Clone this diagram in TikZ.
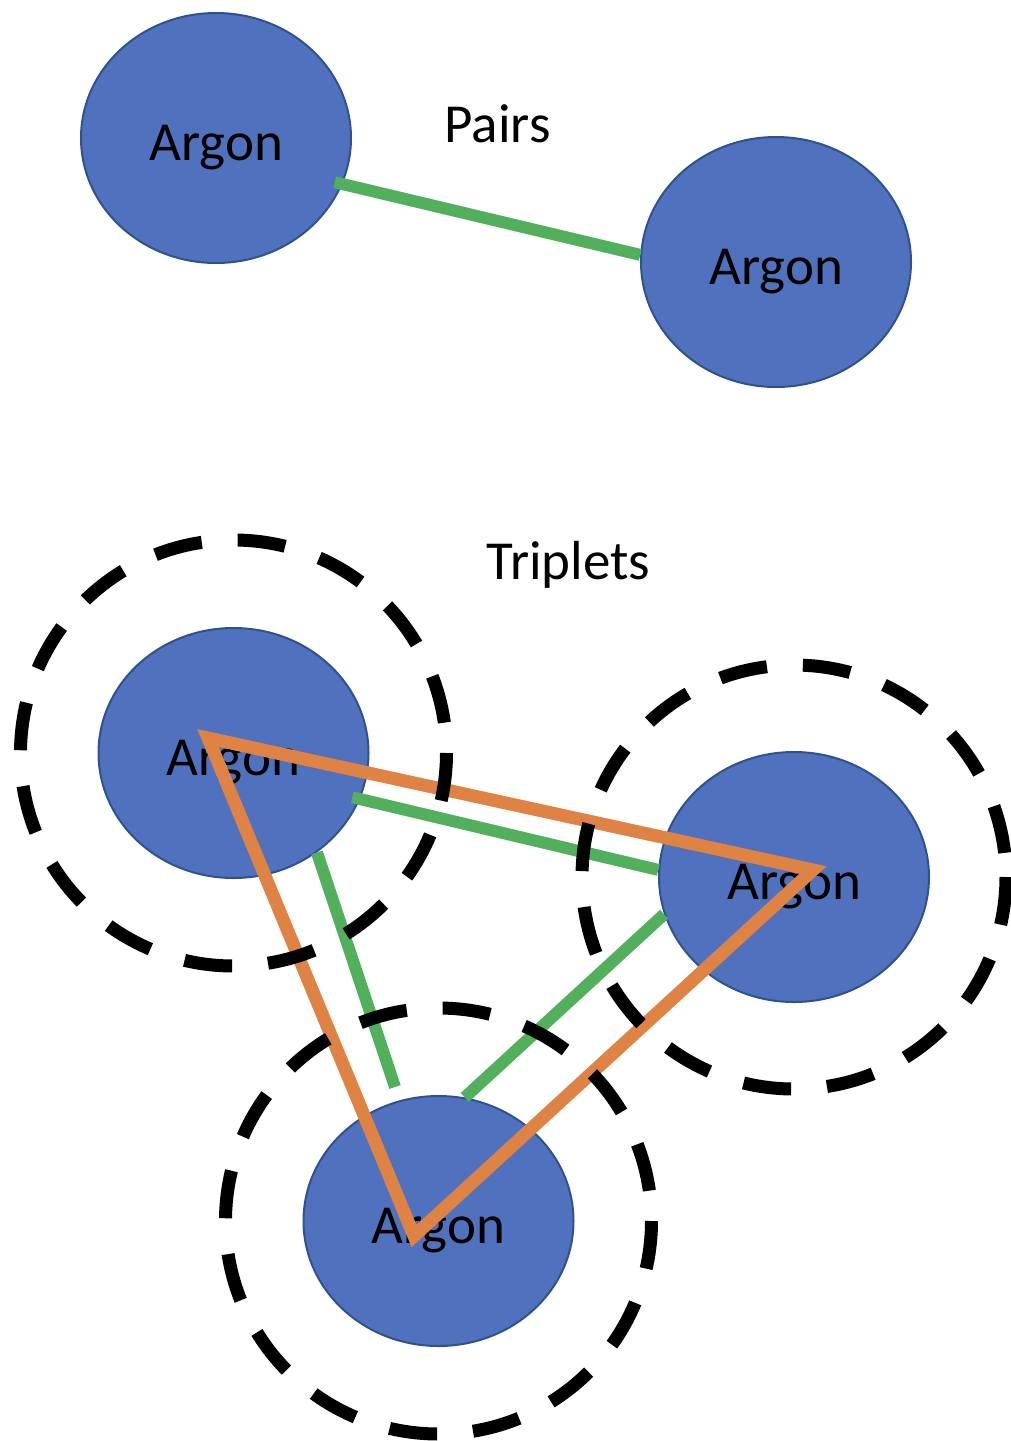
\documentclass[tikz,border=0pt]{standalone}
\usepackage{fontspec}
\setmainfont{Carlito}
\usetikzlibrary{shapes.geometric}
\definecolor{argonblue}{HTML}{4F71BE}
\definecolor{argonedge}{HTML}{2F528F}
\definecolor{bondgreen}{HTML}{52AF5B}
\definecolor{triorange}{HTML}{DF8344}
\begin{document}
\begin{tikzpicture}[x=0.5pt,y=-0.5pt,
  atom/.style={ellipse, draw=argonedge, line width=1pt, fill=argonblue,
    minimum width=135pt, minimum height=125pt, inner sep=0pt,
    font=\fontsize{27.5}{32}\selectfont, text height=22pt, text depth=0pt},
  titletext/.style={inner sep=0pt, font=\fontsize{27.5}{32}\selectfont,
    text height=22pt, text depth=0pt},
  bond/.style={draw=bondgreen, line width=6pt},
  trio/.style={draw=triorange, line width=6.5pt, line join=miter},
  shell/.style={draw=black, line width=6.5pt, dash pattern=on 24pt off 18pt}
]
\useasboundingbox (0,0) rectangle (1011,1441);

% ---- Pairs ----
\node[atom] (p1) at (216,138) {Argon};
\node[atom] (p2) at (776,262) {Argon};
\node[titletext] (pairs) at (497.5,120.5) {Pairs};
\draw[bond, shorten <=-4pt] (p1.-20.7) -- (p2.177.4);

% ---- Triplets ----
\node[titletext] (triplets) at (568.5,557) {Triplets};
\node[atom] (a) at (233.5,753) {Argon};
\node[atom] (b) at (794,877) {Argon};
\node[atom] (c) at (438.5,1221) {Argon};

\coordinate (cend) at (395,1087);
\draw[bond, shorten <=-4pt] (a.-20.4) -- (b.177);
\draw[bond] (a.-50.9) -- (cend);
\draw[bond] (b.-164.5) -- (c.78.8);

\coordinate (ta) at (208,738);
\coordinate (tb) at (813,870);
\coordinate (tc) at (414,1236);
\draw[trio] (ta) -- (tb) -- (tc) -- cycle;

\draw[shell] (a.center) circle [radius=213];
\draw[shell] (b.center) circle [radius=212];
\draw[shell] (c.center) circle [radius=213];
\end{tikzpicture}
\end{document}
